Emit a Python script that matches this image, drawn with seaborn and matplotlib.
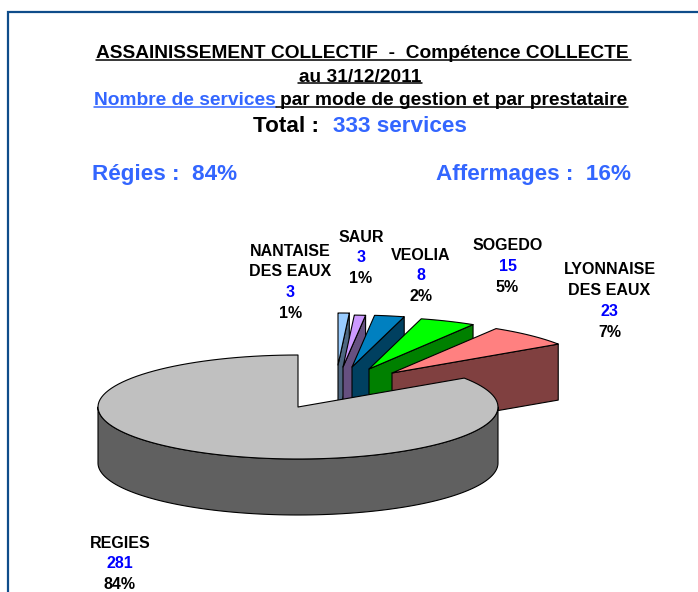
import numpy as np
import matplotlib
matplotlib.use("Agg")
import matplotlib.pyplot as plt
import seaborn as sns

# ---- data
providers = ["NANTAISE\nDES EAUX", "SAUR", "VEOLIA", "SOGEDO", "LYONNAISE\nDES EAUX", "REGIES"]
services = [3, 3, 8, 15, 23, 281]
percent_labels = ["1%", "1%", "2%", "5%", "7%", "84%"]
total_services = 333

# ---- style
top_colors = ["#99CCFF", "#CC99FF", "#0080C0", "#00FF00", "#FF8080", "#C0C0C0"]
side_colors = ["#4D6680", "#665080", "#004060", "#008000", "#804040", "#606060"]
explode_x = [40, 45, 54, 71, 94, 0]
explode_y = [-42, -40, -40, -38, -34, 0]
label_x = [290.5, 361, 420.5, 507.5, 609.5, 120]
label_first_y = [251, 237, 255, 246, 270, 543]
CX, CY, RX, RY, DEPTH = 298, 407, 200, 52, 56
BLUE = "#3366FF"
LH = 20.7
TITLE_FS = 13.8
BIG_FS = 16.2
LABEL_FS = 11.5

sns.set_theme(style="white")
plt.rcParams["font.family"] = ["Liberation Sans", "DejaVu Sans"]
plt.rcParams["font.weight"] = "bold"

fig = plt.figure(figsize=(6.98, 5.92), dpi=100, facecolor="white")
ax = fig.add_axes([0, 0, 1, 1])
ax.set_xlim(0, 698)
ax.set_ylim(592, 0)
ax.axis("off")

# frame
ax.plot([7.5, 7.5, 720], [620, 11.5, 11.5], color="#0F4C8A", lw=1.6, solid_joinstyle="miter")


def ellipse(cx, cy, a0, a1, n=120):
    t = np.radians(np.linspace(a0, a1, n))
    return cx + RX * np.sin(t), cy - RY * np.cos(t)


edges = np.cumsum([0] + services) / sum(services) * 360
EC = dict(edgecolor="black", linewidth=0.8, joinstyle="round")

# exploded slices, back to front (left to right)
for i in range(5):
    cx, cy = CX + explode_x[i], CY + explode_y[i]
    x, y = ellipse(cx, cy, edges[i], edges[i + 1])
    ax.fill([cx, x[-1], x[-1], cx], [cy, y[-1], y[-1] + DEPTH, cy + DEPTH],
            facecolor=side_colors[i], zorder=2 + i, **EC)
    ax.fill(np.r_[cx, x], np.r_[cy, y], facecolor=top_colors[i], zorder=2 + i, **EC)

# main slice
x, y = ellipse(CX, CY, edges[5], edges[6])
wx, wy = ellipse(CX, CY, 90, 270)
ax.fill(np.r_[wx, wx[::-1]], np.r_[wy, wy[::-1] + DEPTH], facecolor=side_colors[5], zorder=10, **EC)
ax.fill(np.r_[CX, x], np.r_[CY, y], facecolor=top_colors[5], zorder=11, **EC)

# data labels
for i, name in enumerate(providers):
    parts = name.split("\n")
    y0 = label_first_y[i]
    for j, part in enumerate(parts):
        ax.text(label_x[i], y0 + j * LH, part, ha="center", va="center", fontsize=LABEL_FS, color="black", zorder=20)
    n = len(parts)
    ax.text(label_x[i], y0 + n * LH, str(services[i]), ha="center", va="center", fontsize=LABEL_FS, color="#0000FF", zorder=20)
    ax.text(label_x[i], y0 + (n + 1) * LH, percent_labels[i], ha="center", va="center", fontsize=LABEL_FS, color="black", zorder=20)

# titles
ax.text(96, 58, "ASSAINISSEMENT COLLECTIF  -  Compétence COLLECTE", fontsize=TITLE_FS, color="black", va="baseline", ha="left")
ax.text(360, 81.5, "au 31/12/2011", fontsize=TITLE_FS, color="black", va="baseline", ha="center")
ax.text(94, 105, "Nombre de services", fontsize=TITLE_FS, color=BLUE, va="baseline", ha="left")
ax.text(280, 105, "par mode de gestion et par prestataire", fontsize=TITLE_FS, color="black", va="baseline", ha="left")
ax.plot([96, 631], [59.8, 59.8], color="black", lw=1.1)
ax.plot([298, 422], [83.3, 83.3], color="black", lw=1.1)
ax.plot([94, 276], [107, 107], color=BLUE, lw=1.1)
ax.plot([276, 628], [107, 107], color="black", lw=1.1)

ax.text(253, 132, "Total :", fontsize=BIG_FS, color="black", va="baseline", ha="left")
ax.text(333, 132, f"{total_services} services", fontsize=BIG_FS, color=BLUE, va="baseline", ha="left")
ax.text(92, 180, "Régies :  84%", fontsize=BIG_FS, color=BLUE, va="baseline", ha="left")
ax.text(436, 180, "Affermages :  16%", fontsize=BIG_FS, color=BLUE, va="baseline", ha="left")

fig.savefig("out.png", dpi=100, facecolor="white")
